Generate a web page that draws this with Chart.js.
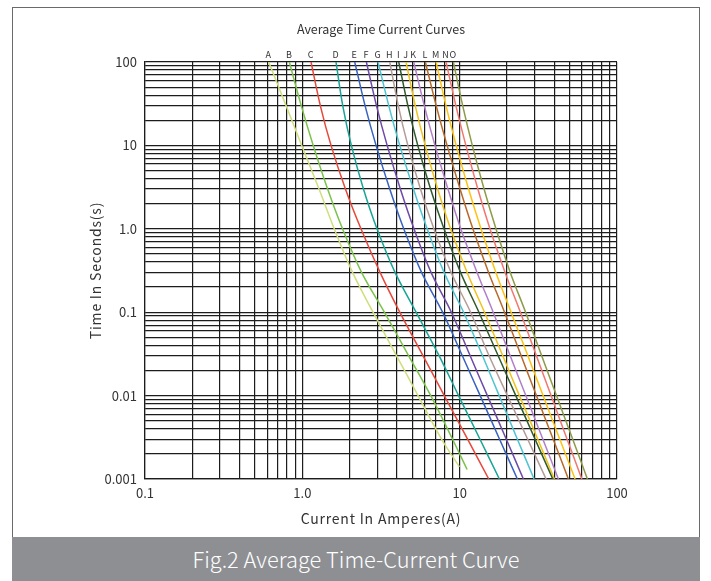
<!DOCTYPE html>
<html><head><meta charset="utf-8">
<script src="https://cdn.jsdelivr.net/npm/chart.js@4"></script>
<style>
html,body{margin:0;padding:0;background:#fff;}
#wrap{position:relative;width:711px;height:581px;overflow:hidden;background:#fff;}
#frame{position:absolute;left:12px;top:7px;width:688px;height:574px;border:1px solid #6a6a6a;border-bottom:none;box-sizing:border-box;}
#band{position:absolute;left:12px;top:537px;width:688px;height:44px;background:#8e8f93;color:#fff;font-family:"Noto Sans CJK SC",sans-serif;font-weight:300;font-size:21.8px;text-align:center;line-height:44px;}
canvas{position:absolute;left:0;top:0;}
</style></head><body>
<div id="wrap"><div id="frame"></div><div id="band">Fig.2 Average Time-Current Curve</div><canvas id="c" width="711" height="537"></canvas></div>
<script>
// ---- data ----
const curveLabels = ['A','B','C','D','E','F','G','H','I','J','K','L','M','N','O'];
const times = [100, 30, 10, 3, 1, 0.3, 0.1, 0.03, 0.01, 0.003, 0.001];
const endTimes = [0.0014, 0.0013, 0.001, 0.001, 0.001, 0.001, 0.001, 0.001, 0.001, 0.001, 0.001, 0.001, 0.001, 0.001, 0.001];
const currentA = [0.611, 0.788, 0.991, 1.277, 1.595, 2.085, 2.815, 3.971, 5.438, 7.671, 9.96];
const currentB = [0.827, 0.984, 1.173, 1.448, 1.801, 2.379, 3.321, 4.741, 6.551, 9.013, 11.15];
const currentC = [1.136, 1.301, 1.522, 1.879, 2.358, 3.119, 4.161, 5.852, 7.981, 11.23, 15.31];
const currentD = [1.637, 1.806, 2.049, 2.446, 2.981, 3.884, 5.282, 7.409, 9.84, 13.46, 17.88];
const currentE = [2.153, 2.504, 2.941, 3.594, 4.412, 5.725, 7.785, 10.40, 13.50, 17.93, 23.27];
const currentF = [2.553, 2.959, 3.460, 4.198, 5.122, 6.580, 8.856, 11.66, 15.00, 19.79, 25.41];
const currentG = [3.028, 3.542, 4.161, 5.085, 6.215, 7.957, 10.59, 13.98, 17.83, 23.27, 29.72];
const currentH = [3.594, 4.071, 4.685, 5.633, 6.855, 8.817, 11.73, 15.38, 20.11, 27.06, 35.43];
const currentI = [4.101, 4.685, 5.415, 6.531, 7.947, 10.13, 13.25, 17.57, 22.73, 30.16, 39.07];
const currentJ = [4.562, 5.220, 6.035, 7.245, 8.754, 11.15, 14.38, 18.79, 23.96, 31.37, 39.99];
const currentK = [5.107, 5.957, 6.966, 8.426, 10.16, 12.90, 16.33, 20.95, 26.32, 33.80, 42.41];
const currentL = [6.053, 7.089, 8.316, 10.06, 12.13, 15.27, 19.27, 24.60, 30.74, 39.30, 49.09];
const currentM = [7.079, 8.183, 9.502, 11.39, 13.66, 16.99, 21.22, 27.14, 33.90, 43.29, 54.15];
const currentN = [8.194, 9.458, 10.95, 13.05, 15.58, 19.44, 24.31, 30.74, 38.11, 48.17, 59.74];
const currentO = [9.12, 10.45, 12.03, 14.29, 17.01, 20.97, 26.24, 33.21, 41.24, 52.30, 64.84];
const xTickValues = [0.1,0.2,0.3,0.4,0.5,0.6,0.7,0.8,0.9,1,2,3,4,5,6,7,8,9,10,20,30,40,50,60,70,80,90,100];
const xTickLabels = {'0.1':'0.1','1':'1.0','10':'10','100':'100'};
const yTickValues = [0.001,0.002,0.003,0.004,0.005,0.006,0.007,0.008,0.009,0.01,0.02,0.03,0.04,0.05,0.06,0.07,0.08,0.09,0.1,0.2,0.3,0.4,0.5,0.6,0.7,0.8,0.9,1,2,3,4,5,6,7,8,9,10,20,30,40,50,60,70,80,90,100];
const yTickLabels = {'0.001':'0.001','0.01':'0.01','0.1':'0.1','1':'1.0','10':'10','100':'100'};
const chartTitle = 'Average Time Current Curves';
const xTitle = 'Current In Amperes(A)';
const yTitle = 'Time In Seconds(s)';

// ---- styles ----
const curveColors = ['#cfdf7c','#7bc34b','#e8483b','#17a595','#3862c1','#6d4aa9','#4dc5d3','#b39c97','#2f5b2c','#efc31b','#b27ec9','#b8692a','#ffc211','#f2776e','#8e9b47'];
const currents = [currentA,currentB,currentC,currentD,currentE,currentF,currentG,currentH,currentI,currentJ,currentK,currentL,currentM,currentN,currentO];
const FONT = '"Noto Sans CJK SC", "Noto Sans", sans-serif';

const datasets = currents.map((cur, k) => ({
  label: curveLabels[k],
  data: cur.map((v, i) => ({x: v, y: i === cur.length - 1 ? endTimes[k] : times[i]})),
  borderColor: curveColors[k],
  borderWidth: 1.5,
  pointRadius: 0,
  fill: false,
  tension: 0.35
}));

function keyOf(v){ return String(parseFloat(v.toPrecision(6))); }

const textPlugin = {
  id: 'texts',
  afterDraw(chart) {
    const ctx = chart.ctx, a = chart.chartArea;
    ctx.save();
    ctx.fillStyle = '#333';
    ctx.textAlign = 'center';
    ctx.textBaseline = 'middle';
    ctx.font = '12.5px ' + FONT;
    ctx.letterSpacing = '0px';
    ctx.fillText(chartTitle, (a.left + a.right) / 2, 29);
    ctx.font = '14px ' + FONT;
    ctx.letterSpacing = '0.8px';
    ctx.fillText(xTitle, (a.left + a.right) / 2, 519);
    ctx.save();
    ctx.translate(96, (a.top + a.bottom) / 2);
    ctx.rotate(-Math.PI / 2);
    ctx.fillText(yTitle, 0, 0);
    ctx.restore();
    ctx.letterSpacing = '0px';
    ctx.font = '9px ' + FONT;
    const xs = chart.scales.x;
    datasets.forEach((d) => {
      const px = xs.getPixelForValue(d.data[0].x);
      ctx.fillText(d.label, px - 0.5, a.top - 7);
    });
    ctx.restore();
  }
};

new Chart(document.getElementById('c'), {
  type: 'line',
  data: { datasets },
  options: {
    responsive: false,
    devicePixelRatio: 1,
    animation: false,
    layout: { padding: { left: 0, right: 94, top: 62, bottom: 0 } },
    plugins: { legend: { display: false }, tooltip: { enabled: false }, title: { display: false } },
    scales: {
      x: {
        type: 'logarithmic', min: 0.1, max: 100,
        afterBuildTicks: s => { s.ticks = xTickValues.map(v => ({ value: v })); },
        afterFit: s => { s.height = 58; },
        grid: { color: '#1c1c1c', lineWidth: 1.2, drawTicks: false },
        border: { color: '#1c1c1c', width: 1.2 },
        ticks: { autoSkip: false, maxRotation: 0, padding: 6, color: '#333', font: { family: FONT, size: 13 },
          callback: v => xTickLabels[keyOf(v)] || '' }
      },
      y: {
        type: 'logarithmic', min: 0.001, max: 100,
        afterBuildTicks: s => { s.ticks = yTickValues.map(v => ({ value: v })); },
        afterFit: s => { s.width = 145; },
        grid: { color: '#1c1c1c', lineWidth: 1.2, drawTicks: false },
        border: { color: '#1c1c1c', width: 1.2 },
        ticks: { autoSkip: false, padding: 8, color: '#333', font: { family: FONT, size: 13 },
          callback: v => yTickLabels[keyOf(v)] || '' }
      }
    }
  },
  plugins: [textPlugin]
});
</script>
</body></html>
